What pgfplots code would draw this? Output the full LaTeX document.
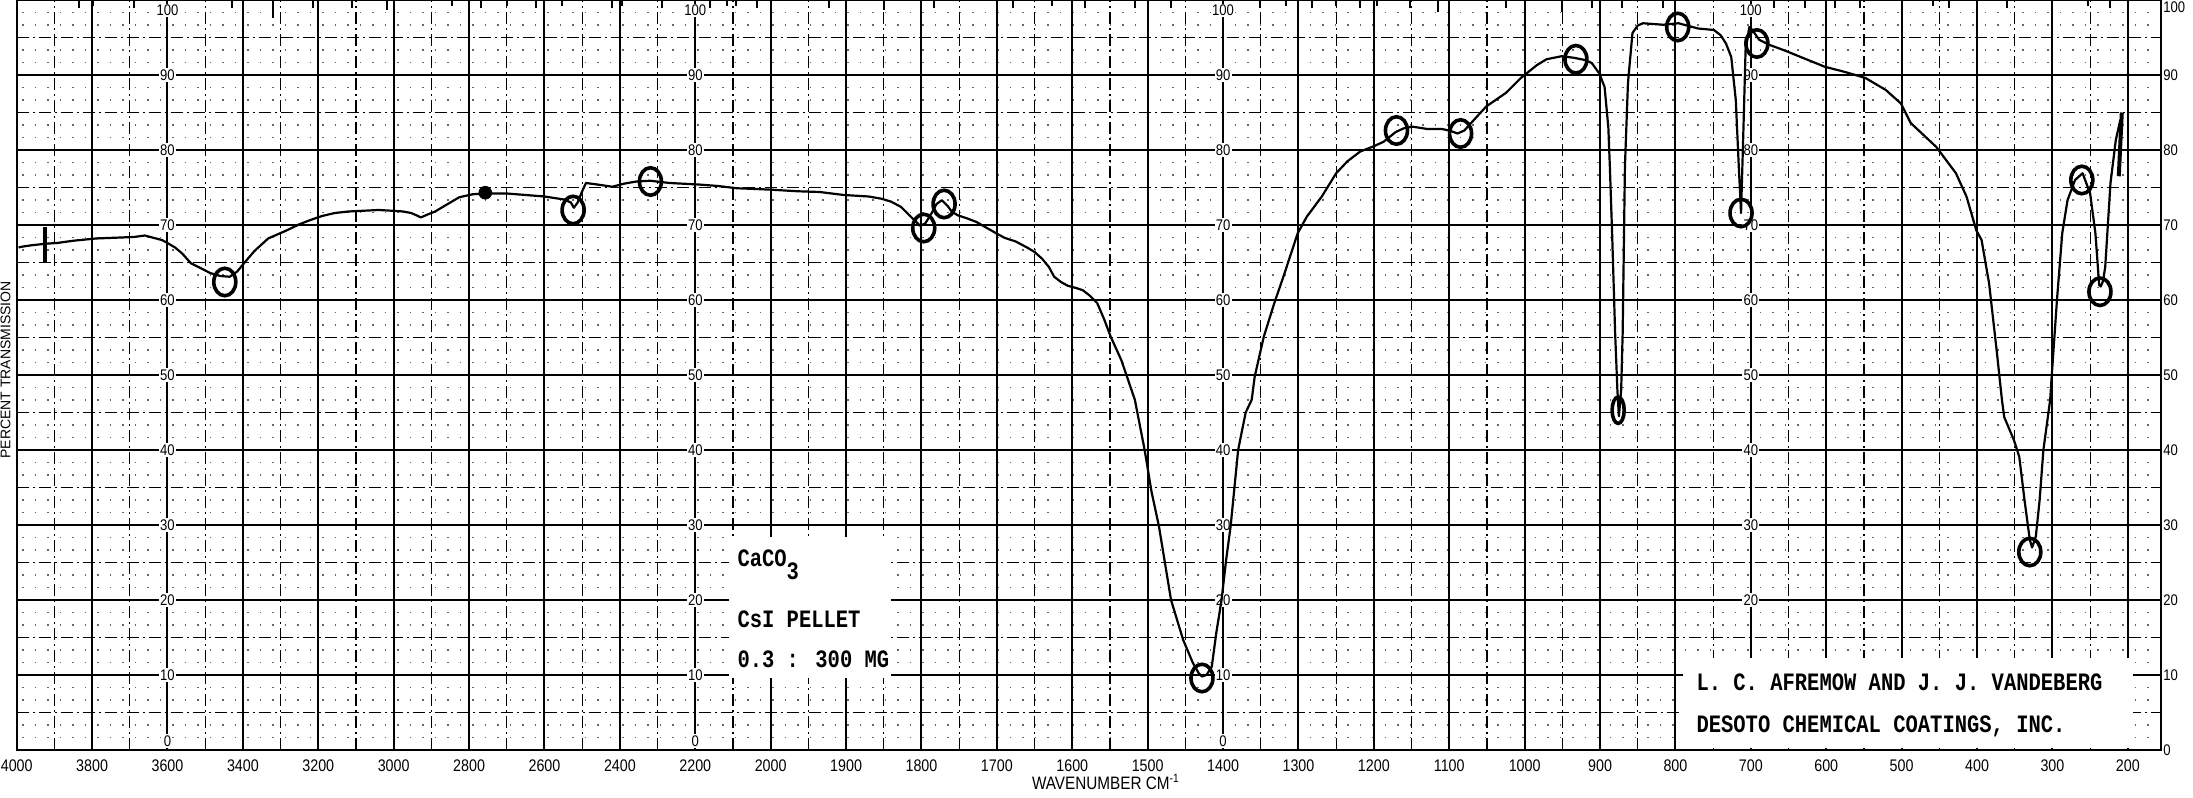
\documentclass[border=0pt]{standalone}
\usepackage{pgfplots}
\pgfplotsset{compat=1.18}
\usepackage{fontspec}
\setmainfont{Liberation Sans}
\newfontfamily\tickfont[FakeStretch=0.85]{Liberation Sans}
\newfontfamily\typefont[FakeStretch=0.82]{Liberation Mono}

\pgfplotstableread{
wn T
3995 67.0
3987 67.1
3960 67.3
3924 67.5
3893 67.6
3850 67.9
3790 68.2
3740 68.3
3689 68.4
3660 68.6
3638 68.3
3615 68.0
3600 67.6
3580 67.0
3561 66.2
3538 64.9
3510 64.2
3487 63.6
3460 63.2
3435 63.1
3415 63.8
3397 64.9
3370 66.5
3333 68.2
3283 69.3
3250 70.1
3219 70.7
3190 71.2
3156 71.6
3120 71.8
3080 71.9
3040 72.0
3004 71.9
2975 71.8
2954 71.6
2940 71.3
2928 71.0
2910 71.4
2890 71.8
2860 72.7
2826 73.7
2790 74.1
2757 74.2
2700 74.2
2650 74.0
2600 73.8
2548 73.4
2530 73.0
2522 72.3
2512 73.0
2500 74.5
2490 75.6
2460 75.4
2420 75.1
2390 75.5
2356 75.8
2320 75.9
2268 75.6
2230 75.5
2192 75.4
2140 75.2
2090 74.9
2040 74.8
1998 74.7
1965 74.5
1935 74.4
1903 74.0
1870 73.8
1853 73.5
1840 73.1
1827 72.4
1815 71.2
1802 69.9
1795 70.2
1787 71.5
1780 72.8
1773 73.3
1765 72.5
1760 71.8
1752 71.3
1740 70.9
1727 70.4
1715 69.7
1701 68.9
1690 68.3
1675 67.8
1660 67.0
1650 66.4
1640 65.5
1631 64.4
1624 63.1
1615 62.4
1606 61.9
1595 61.6
1586 61.3
1577 60.6
1567 59.6
1558 57.5
1549 55.1
1535 52.0
1517 46.7
1504 40.0
1495 34.5
1485 29.8
1469 20.0
1453 14.7
1440 11.6
1432 10.2
1428 9.8
1422 10.0
1415 11.1
1409 15.6
1402 20.0
1396 25.3
1390 29.8
1380 40.0
1370 45.0
1362 46.7
1358 49.8
1346 55.1
1332 59.6
1320 63.1
1301 68.9
1289 71.1
1269 73.8
1250 76.9
1235 78.5
1218 79.8
1200 80.5
1187 81.1
1171 82.4
1160 82.9
1148 83.1
1129 82.8
1110 82.8
1100 82.6
1089 82.2
1080 82.6
1071 83.6
1051 85.8
1025 87.6
1005 89.6
984 91.3
971 92.1
951 92.5
935 92.3
920 92.0
911 91.6
901 90.2
894 88.4
889 83.0
887 77.8
884 68.9
880 55.6
877 48.0
875 44.5
872 48.0
870 55.6
867 77.8
863 88.9
857 95.6
850 96.6
843 96.9
830 96.8
816 96.7
796 96.9
785 96.6
770 96.2
749 96.0
740 95.3
733 94.2
726 92.4
720 86.7
716 77.8
713 71.6
710 82.2
707 93.3
702 96.4
698 96.0
689 94.7
675 94.0
656 93.3
629 92.2
602 91.1
575 90.4
548 89.6
521 88.0
501 86.2
488 83.6
454 80.4
428 76.9
414 73.8
401 69.3
394 68.0
384 62.2
374 53.3
367 46.7
364 44.4
351 41.3
344 39.1
337 33.3
330 28.0
327 27.0
322 28.5
317 33.3
312 40.0
303 46.7
301 49.8
294 60.0
287 68.9
280 73.3
270 76.0
260 76.9
250 74.2
243 68.9
238 62.0
236 61.8
233 62.5
230 64.4
223 75.6
216 81.3
210 84.0
}\spectrum

\pgfplotstableread{
wn T
3448 62.4
2524 72.0
2319 75.8
1797 69.6
1770 72.8
1428 9.6
1170 82.6
1085 82.2
932 92.1
797 96.4
713 71.6
692 94.2
330 26.4
261 76.0
237 61.1
}\penmarks

\begin{document}
\begin{tikzpicture}
% fine dotted lattice of the chart paper
\foreach \k in {0,...,19}{
  \foreach \j in {1,2}{
    \draw[black!60, line width=0.9pt, dash pattern=on 0.9pt off 5.35pt, dash phase=-2.7pt]
      (0,{(\k*5+\j*5/3)*3.75pt}) -- (1072.15pt,{(\k*5+\j*5/3)*3.75pt});
  }
}
\begin{axis}[
  at={(0,0)}, anchor=south west, scale only axis,
  width=1072.15pt, height=375pt,
  x coord trafo/.code={\pgfmathparse{#1>=2000?(4000-#1)/2:3000-#1}},
  xmin=4000, xmax=156, ymin=0, ymax=100,
  xtick={4000,3800,3600,3400,3200,3000,2800,2600,2400,2200,2000,1900,1800,1700,1600,1500,1400,1300,1200,1100,1000,900,800,700,600,500,400,300,200},
  xticklabels={4000,3800,3600,3400,3200,3000,2800,2600,2400,2200,2000,1900,1800,1700,1600,1500,1400,1300,1200,1100,1000,900,800,700,600,500,400,300,200},
  minor xtick={3900,3700,3500,3300,3100,2900,2700,2500,2300,2100,1950,1850,1750,1650,1550,1450,1350,1250,1150,1050,950,850,750,650,550,450,350,250},
  ytick={0,10,...,90}, minor ytick={5,15,...,95},
  extra y ticks={100},
  extra y tick style={yticklabel style={yshift=-3.5pt}},
  yticklabel pos=right,
  grid=both,
  major grid style={black, line width=1pt},
  minor grid style={black, line width=0.55pt, dash pattern=on 6pt off 2pt on 1pt off 2pt},
  axis line style={black, line width=1pt},
  major tick length=0pt, minor tick length=0pt,
  xticklabel style={font=\fontsize{8.4}{9}\tickfont, anchor=center, yshift=-8pt, inner sep=0pt},
  yticklabel style={font=\fontsize{7.7}{8}\tickfont, anchor=west, xshift=1pt, inner sep=0pt},
  /pgf/number format/assume math mode=true,
  clip=false,
]
% internal scale labels of the chart paper
\pgfplotsinvokeforeach{20,30,40,50,60,70,80,90}{
  \node[fill=white, inner sep=0.6pt, font=\fontsize{7.7}{8}\tickfont] at (axis cs:3600,#1) {#1};
  \node[fill=white, inner sep=0.6pt, font=\fontsize{7.7}{8}\tickfont] at (axis cs:2200,#1) {#1};
  \node[fill=white, inner sep=0.6pt, font=\fontsize{7.7}{8}\tickfont] at (axis cs:1400,#1) {#1};
  \node[fill=white, inner sep=0.6pt, font=\fontsize{7.7}{8}\tickfont] at (axis cs:700,#1) {#1};
}
\pgfplotsinvokeforeach{3600,2200,1400}{
  \node[fill=white, inner sep=0.6pt, font=\fontsize{7.7}{8}\tickfont] at (axis cs:#1,10) {10};
  \node[fill=white, inner sep=0.6pt, font=\fontsize{7.7}{8}\tickfont] at (axis cs:#1,1.2) {0};
}
\pgfplotsinvokeforeach{3600,2200,1400,700}{
  \node[fill=white, inner sep=0.6pt, font=\fontsize{7.7}{8}\tickfont] at (axis cs:#1,98.6) {100};
}
\addplot[black, line width=1.1pt, no marks, line join=round] table[x=wn, y=T] {\spectrum};
\addplot[only marks, mark=o, mark size=5.5pt, mark options={black, line width=1.8pt, yscale=1.25}] table[x=wn, y=T] {\penmarks};
\addplot[only marks, mark=o, mark size=5.5pt, mark options={black, line width=1.8pt, xscale=0.55, yscale=1.2}] coordinates {(876,45.3)};
\addplot[only marks, mark=*, mark size=3.2pt, mark options={black}] coordinates {(2757,74.3)};
\addplot[black, line width=2pt, no marks] coordinates {(3924,64.9) (3924,69.7)};
\addplot[black, line width=2pt, no marks] coordinates {(208,85) (212,76.5)};
\end{axis}
% short marks hanging from the top edge of the chart paper
\foreach \x/\l in {79/4,93/3,134/4,232/4,273/9,313/4,352/4,387/5,452/3,481/4,507/3,536/4,562/3,612/4,622/3,662/4,710/4,727/3,736/3,757/4,829/4,884/5,934/4,1013/4,1052/3,1085/4,1135/4,1171/4,1260/4,1286/3,1312/4,1336/3,1360/4,1377/3,1410/4,1438/6,1506/4,1562/6,1592/4,1622/4,1663/4,1774/4,1805/4,1835/4,1860/4,1933/3,1949/4,1977/4,2007/4,2052/4,2088/3,2110/4}{
  \draw[black, line width=0.8pt] ({(\x-16.7)*0.5pt},375pt) -- ++(0,-\l pt);
}
% white label boxes
\fill[white] (356.2pt,36pt) rectangle (437.2pt,106.5pt);
\fill[white] (833.2pt,1pt) rectangle (1058.2pt,46pt);
\node[anchor=base west, inner sep=0pt, font=\fontsize{12.5}{13}\typefont\bfseries] at (360.2pt,91.5pt) {CaCO\raisebox{-6.5pt}{3}};
\node[anchor=base west, inner sep=0pt, font=\fontsize{12.5}{13}\typefont\bfseries] at (360.2pt,61pt) {CsI PELLET};
\node[anchor=base west, inner sep=0pt, font=\fontsize{12.5}{13}\typefont\bfseries] at (360.2pt,41pt) {0.3 : 300 MG};
\node[anchor=base west, inner sep=0pt, font=\fontsize{12.5}{13}\typefont\bfseries] at (839.7pt,30pt) {L. C. AFREMOW AND J. J. VANDEBERG};
\node[anchor=base west, inner sep=0pt, font=\fontsize{12.5}{13}\typefont\bfseries] at (839.7pt,9pt) {DESOTO CHEMICAL COATINGS, INC.};
% axis titles
\node[font=\fontsize{9}{10}\tickfont] at (544.6pt,-16pt) {WAVENUMBER CM\textsuperscript{-1}};
\node[rotate=90, anchor=base, inner sep=0pt, font=\fontsize{7}{8}\selectfont] at (-3.2pt,190pt) {PERCENT TRANSMISSION};
\pgfresetboundingbox
\path[use as bounding box] (-8.35pt,-23.5pt) rectangle (1088.15pt,375pt);
\end{tikzpicture}
\end{document}
